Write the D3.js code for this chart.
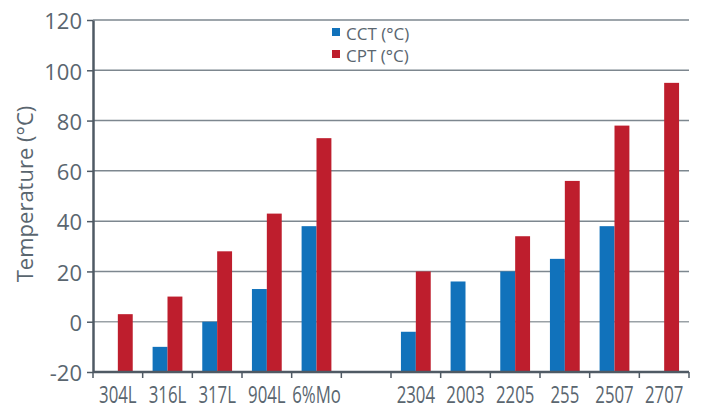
<!DOCTYPE html>
<html>
<head>
<meta charset="utf-8">
<script src="https://cdn.jsdelivr.net/npm/d3@7"></script>
<style>
  body { margin: 0; background: #fff; }
  svg { display: block; font-family: "Open Sans", sans-serif; }
</style>
</head>
<body>
<svg width="705" height="410"></svg>
<script>
// data
var grades = ["304L", "316L", "317L", "904L", "6%Mo", "", "2304", "2003", "2205", "255", "2507", "2707"];
var cct = [null, -10, 0, 13, 38, null, -4, 16, 20, 25, 38, null];
var cpt = [3, 10, 28, 43, 73, null, 20, null, 34, 56, 78, 95];
var yTicks = [-20, 0, 20, 40, 60, 80, 100, 120];
var seriesNames = ["CCT (°C)", "CPT (°C)"];
var colors = ["#1172bb", "#be1e2d"];

var svg = d3.select("svg"),
    plotLeft = 93, plotRight = 689, plotTop = 20, plotBottom = 372,
    textCol = "#5a666f", axisCol = "#4f5a64";

// use index keys so the blank slot is its own band
var keys = grades.map(function(d, i) { return "k" + i; });

var xScale = d3.scaleBand().domain(keys).range([plotLeft, plotRight]).padding(0),
    inner = d3.scaleBand().domain([0, 1]).range([xScale.bandwidth() * 0.2, xScale.bandwidth() * 0.8]).padding(0),
    yScale = d3.scaleLinear().domain([-20, 120]).range([plotBottom, plotTop]);

// gridlines
svg.append("g")
   .selectAll("line")
   .data(yTicks.filter(function(d) { return d > -20; }))
   .enter().append("line")
   .attr("x1", plotLeft)
   .attr("x2", plotRight)
   .attr("y1", function(d) { return yScale(d); })
   .attr("y2", function(d) { return yScale(d); })
   .attr("stroke", function(d) { return d == 0 ? "#9aa1a6" : "#7d878f"; })
   .attr("stroke-width", 1.5);

// bars (they start at the bottom of the axis, -20)
var rows = [];
grades.forEach(function(g, i) {
    [cct[i], cpt[i]].forEach(function(v, s) {
        if (v != null) rows.push({ key: keys[i], s: s, v: v });
    });
});

svg.append("g")
   .selectAll("rect")
   .data(rows)
   .enter().append("rect")
   .attr("x", function(d) { return xScale(d.key) + inner(d.s); })
   .attr("y", function(d) { return yScale(d.v); })
   .attr("width", inner.bandwidth())
   .attr("height", function(d) { return yScale(-20) - yScale(d.v); })
   .attr("fill", function(d) { return colors[d.s]; });

// y axis
svg.append("g")
   .attr("transform", "translate(" + plotLeft + ",0)")
   .call(d3.axisLeft(yScale).tickValues(yTicks).tickSize(6).tickPadding(5).tickSizeOuter(0)
      .tickFormat(function(d) { return String(d); }))
   .call(function(g) {
       g.select(".domain").attr("stroke", axisCol).attr("stroke-width", 2.5);
       g.selectAll(".tick line").attr("stroke", axisCol).attr("stroke-width", 1.5);
       g.selectAll(".tick text")
        .attr("fill", textCol)
        .attr("font-size", "22px")
        .attr("font-family", "Open Sans")
        .attr("dy", "0.4em");
   });

// x axis line + boundary ticks
var xa = svg.append("g");
xa.append("line")
  .attr("x1", plotLeft).attr("x2", plotRight)
  .attr("y1", plotBottom).attr("y2", plotBottom)
  .attr("stroke", axisCol).attr("stroke-width", 2.5);
xa.selectAll(".bt")
  .data(keys.concat(["end"]))
  .enter().append("line")
  .attr("class", "bt")
  .attr("x1", function(d) { return d == "end" ? plotRight : xScale(d); })
  .attr("x2", function(d) { return d == "end" ? plotRight : xScale(d); })
  .attr("y1", plotBottom)
  .attr("y2", plotBottom + 6)
  .attr("stroke", axisCol)
  .attr("stroke-width", 1.5);

// x labels (condensed look)
svg.append("g")
   .attr("transform", "translate(0," + plotBottom + ")")
   .call(d3.axisBottom(xScale).tickSize(0).tickFormat(function(d, i) { return grades[i]; }))
   .call(function(g) {
       g.select(".domain").remove();
       g.selectAll(".tick text")
        .attr("fill", textCol)
        .attr("font-size", "24px")
        .attr("font-family", "Open Sans")
        .attr("y", 31)
        .attr("dy", 0)
        .attr("transform", "scale(0.7,1)");
   });

// y title
svg.append("text")
   .attr("transform", "translate(33,194) rotate(-90)")
   .attr("text-anchor", "middle")
   .attr("fill", textCol)
   .attr("font-size", "22px")
   .text("Temperature (°C)");

// legend
var leg = svg.append("g").attr("transform", "translate(332,28)");
seriesNames.forEach(function(name, i) {
    leg.append("rect")
       .attr("x", 0).attr("y", i * 22)
       .attr("width", 8).attr("height", 8)
       .attr("fill", colors[i]);
    leg.append("text")
       .attr("x", 14).attr("y", i * 22 + 12)
       .attr("fill", textCol)
       .attr("font-size", "17px")
       .text(name);
});
</script>
</body>
</html>
